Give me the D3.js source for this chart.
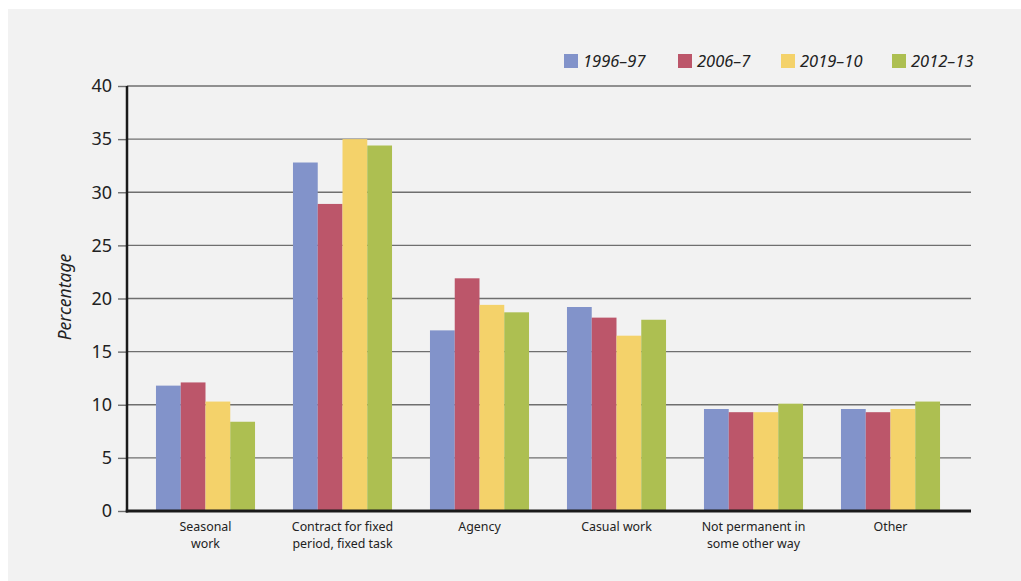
<!DOCTYPE html>
<html>
<head>
<meta charset="utf-8">
<script src="https://cdn.jsdelivr.net/npm/d3@7"></script>
<style>
  html, body { margin: 0; padding: 0; background: #ffffff; }
  svg { display: block; }
  text { font-family: "Noto Sans", "Open Sans", sans-serif; fill: #222; }
</style>
</head>
<body>
<script>
// Categories, series and values
const categories = [
  ["Seasonal", "work"],
  ["Contract for fixed", "period, fixed task"],
  ["Agency"],
  ["Casual work"],
  ["Not permanent in", "some other way"],
  ["Other"]
];
const seriesNames = ["1996\u201397", "2006\u20137", "2019\u201310", "2012\u201313"];
const seriesColors = ["#8293ca", "#bc566a", "#f4d26a", "#adbf51"];
const values1996 = [11.8, 32.8, 17.0, 19.2, 9.6, 9.6];
const values2006 = [12.1, 28.9, 21.9, 18.2, 9.3, 9.3];
const values2019 = [10.3, 35.0, 19.4, 16.5, 9.3, 9.6];
const values2012 = [8.4, 34.4, 18.7, 18.0, 10.1, 10.3];
const yTicks = [0, 5, 10, 15, 20, 25, 30, 35, 40];

const seriesValues = [values1996, values2006, values2019, values2012];

const W = 1021, H = 581;
const svg = d3.select("body").append("svg").attr("width", W).attr("height", H);

// Panel background
svg.append("rect").attr("x", 8).attr("y", 9).attr("width", W - 8).attr("height", H - 9)
  .attr("fill", "#f2f2f2");

const plotLeft = 127, plotRight = 971, plotTop = 86, plotBottom = 511;

const y = d3.scaleLinear().domain([0, 40]).range([plotBottom, plotTop]);
const x0 = d3.scaleBand().domain(d3.range(categories.length))
  .range([137, 959]).paddingInner(0.277).paddingOuter(0.1385);
const x1 = d3.scaleBand().domain(d3.range(seriesNames.length))
  .range([0, x0.bandwidth()]);

// Gridlines
svg.append("g").selectAll("line").data(yTicks.filter(d => d > 0)).join("line")
  .attr("x1", plotLeft).attr("x2", plotRight)
  .attr("y1", d => y(d)).attr("y2", d => y(d))
  .attr("stroke", "#6f6f6f").attr("stroke-width", 1.4);

// Y axis with ticks outside
const yAxis = d3.axisLeft(y).tickValues(yTicks).tickSize(9).tickPadding(6);
const gy = svg.append("g").attr("transform", `translate(${plotLeft},0)`).call(yAxis);
gy.select(".domain").remove();
gy.selectAll(".tick line").attr("stroke", "#6f6f6f").attr("stroke-width", 1.4);
gy.selectAll(".tick text").style("font-size", "18px").attr("fill", "#222")
  .style("font-family", "'Noto Sans', sans-serif");

// Bars
const groups = svg.append("g").selectAll("g").data(categories).join("g")
  .attr("transform", (d, i) => `translate(${x0(i)},0)`);
groups.selectAll("rect")
  .data((d, i) => seriesValues.map((vals, s) => ({ s, v: vals[i] })))
  .join("rect")
  .attr("x", d => x1(d.s))
  .attr("width", x1.bandwidth())
  .attr("y", d => y(d.v))
  .attr("height", d => y(0) - y(d.v))
  .attr("fill", d => seriesColors[d.s]);

// Axis lines
svg.append("line").attr("x1", plotLeft).attr("x2", plotLeft)
  .attr("y1", plotTop).attr("y2", plotBottom + 1.5)
  .attr("stroke", "#1a1a1a").attr("stroke-width", 2.5);
svg.append("line").attr("x1", plotLeft - 1.2).attr("x2", plotRight)
  .attr("y1", plotBottom).attr("y2", plotBottom)
  .attr("stroke", "#1a1a1a").attr("stroke-width", 3);

// Category labels, one text element per line
const labelLines = categories.flatMap((lines, i) =>
  lines.map((t, j) => ({ i, j, t })));
svg.append("g").selectAll("text").data(labelLines).join("text")
  .attr("text-anchor", "middle")
  .attr("x", d => x0(d.i) + x0.bandwidth() / 2)
  .attr("y", d => 531 + d.j * 16.5)
  .style("font-size", "12.4px")
  .text(d => d.t);

// Y axis title
svg.append("text")
  .attr("transform", "translate(71,297) rotate(-90)")
  .attr("text-anchor", "middle")
  .style("font-size", "17.5px").style("font-style", "italic")
  .text("Percentage");

// Legend
const legendX = [564, 678, 781, 892];
const legend = svg.append("g").selectAll("g").data(seriesNames).join("g")
  .attr("transform", (d, i) => `translate(${legendX[i]},54)`);
legend.append("rect").attr("width", 14).attr("height", 14)
  .attr("fill", (d, i) => seriesColors[i]);
legend.append("text").attr("x", 19).attr("y", 13)
  .style("font-size", "16.5px").style("font-style", "italic")
  .text(d => d);
</script>
</body>
</html>
